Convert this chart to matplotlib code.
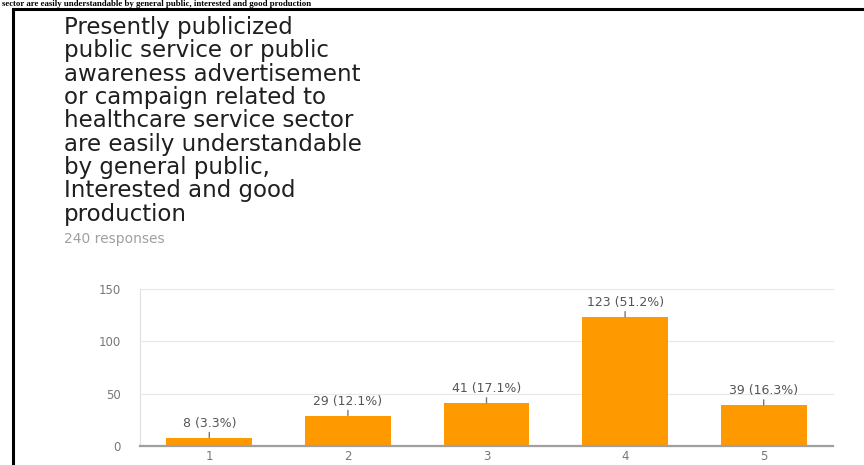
import matplotlib
matplotlib.use("Agg")
import matplotlib.pyplot as plt

# ---- data ----
categories = ["1", "2", "3", "4", "5"]
counts = [8, 29, 41, 123, 39]
percents = ["3.3%", "12.1%", "17.1%", "51.2%", "16.3%"]
y_ticks = [0, 50, 100, 150]
title_lines = [
    "Presently publicized",
    "public service or public",
    "awareness advertisement",
    "or campaign related to",
    "healthcare service sector",
    "are easily understandable",
    "by general public,",
    "Interested and good",
    "production",
]
responses_text = "240 responses"
header_text = "sector are easily understandable by general public, interested and good production"

W, H = 864, 465
fig = plt.figure(figsize=(W / 100, H / 100), dpi=100)
fig.patch.set_facecolor("white")

# document header line above the frame
fig.text(2 / W, 1 - 6 / H, header_text, fontsize=6.3, fontweight="bold",
         family="Liberation Serif", va="baseline", ha="left", color="black")

# black frame lines of the document table
fig.add_artist(plt.Line2D([13 / W, 1], [1 - 8.7 / H, 1 - 8.7 / H],
                          transform=fig.transFigure, color="black", lw=2.2))
fig.add_artist(plt.Line2D([13.3 / W, 13.3 / W], [0, 1 - 8.7 / H],
                          transform=fig.transFigure, color="black", lw=2.2))

# title lines
baselines = [34, 57.3, 80.7, 104, 127.4, 150.7, 174, 197.4, 220.7]
for line, yb in zip(title_lines, baselines):
    fig.text(64 / W, 1 - yb / H, line, fontsize=16.5, family="DejaVu Sans",
             va="baseline", ha="left", color="#1f1f1f")
fig.text(64 / W, 1 - 243 / H, responses_text, fontsize=10, family="DejaVu Sans",
         va="baseline", ha="left", color="#a0a0a0")

# chart
ax = fig.add_axes([140 / W, 19 / H, 693 / W, 157.5 / H])
x = list(range(len(categories)))
ax.bar(x, counts, width=0.62, color="#ff9900", zorder=2)
ax.set_xlim(-0.5, len(categories) - 0.5)
ax.set_ylim(0, 150)
ax.set_yticks(y_ticks)
ax.set_xticks(x)
ax.set_xticklabels(categories)
ax.tick_params(axis="both", length=0, labelsize=8.5, colors="#777777")
ax.tick_params(axis="y", pad=14)
ax.tick_params(axis="x", pad=3)
ax.yaxis.grid(True, color="#e8e8e8", lw=0.8)
for gl in ax.get_ygridlines():
    gl.set_clip_on(False)
ax.set_axisbelow(True)
for s in ["top", "right"]:
    ax.spines[s].set_visible(False)
ax.spines["left"].set_color("#e0e0e0")
ax.spines["left"].set_linewidth(0.8)
ax.spines["bottom"].set_color("#a0a0a0")
ax.spines["bottom"].set_linewidth(1.6)
ax.spines["bottom"].set_zorder(3)

for xi, c, p in zip(x, counts, percents):
    ax.annotate(f"{c} ({p})", xy=(xi, c), xytext=(0, 8), textcoords="offset pixels",
                ha="center", va="bottom", fontsize=9, color="#555555",
                arrowprops=dict(arrowstyle="-", color="#777777", lw=1,
                                shrinkA=0, shrinkB=0))

fig.savefig("out.png", dpi=100)
